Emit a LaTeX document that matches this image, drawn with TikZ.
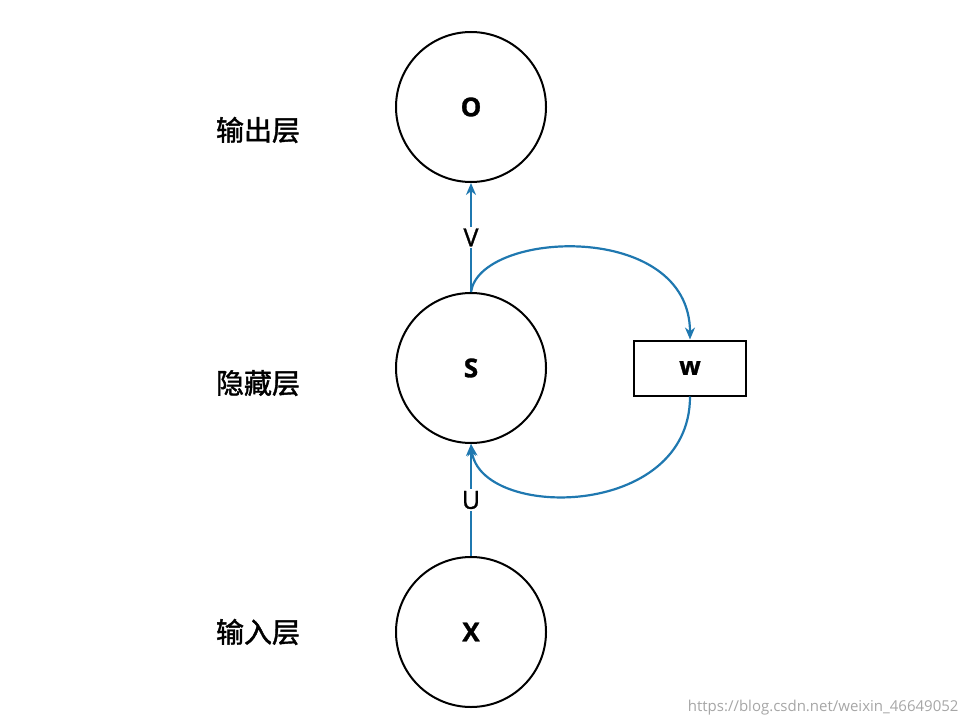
\documentclass[tikz,border=0pt]{standalone}
\usepackage{fontspec}
\setmainfont{Open Sans}[FakeBold=1.2]
\newfontfamily\cjk{Noto Sans CJK SC}[FakeBold=1.5]
\newfontfamily\plain{Open Sans}
\usetikzlibrary{arrows.meta}
\definecolor{arr}{HTML}{1F78B0}
\begin{document}
\begin{tikzpicture}[x=1pt,y=-1pt,
  neuron/.style={circle,draw,line width=2pt,minimum size=150pt,inner sep=0pt,font=\bfseries\fontsize{26}{30}\selectfont},
  lay/.style={font=\cjk\fontsize{28}{30}\selectfont},
  con/.style={draw=arr,line width=2.2pt,-{Stealth[length=12pt,width=10pt]}},
  lbl/.style={fill=white,font=\fontsize{25}{28}\selectfont,inner sep=2pt}]
\useasboundingbox (0,0) rectangle (969,725);
\node[neuron] (o) at (471,107) {O};
\node[neuron] (s) at (471,368) {S};
\node[neuron] (x) at (471,632) {X};
\node[draw,line width=2pt,minimum width=112pt,minimum height=55pt,font=\bfseries\fontsize{25}{28}\selectfont] (w) at (690,368) {w};
\node[lay] (l1) at (258,130) {输出层};
\node[lay] (l2) at (258,383) {隐藏层};
\node[lay] (l3) at (258,632) {输入层};
\draw[con] (s.north) -- node[lbl] {V} (o.south);
\draw[con] (x.north) -- node[lbl] {U} (s.south);
\draw[con] (s.north) .. controls (480,230) and (690,220) .. (w.north);
\draw[con] (w.south) .. controls (690,520) and (480,520) .. (s.south);
\node[text=gray!70,font=\plain\fontsize{15}{18}\selectfont,anchor=east] (wm) at (962,708) {https://blog.csdn.net/weixin\_46649052};
\end{tikzpicture}
\end{document}
